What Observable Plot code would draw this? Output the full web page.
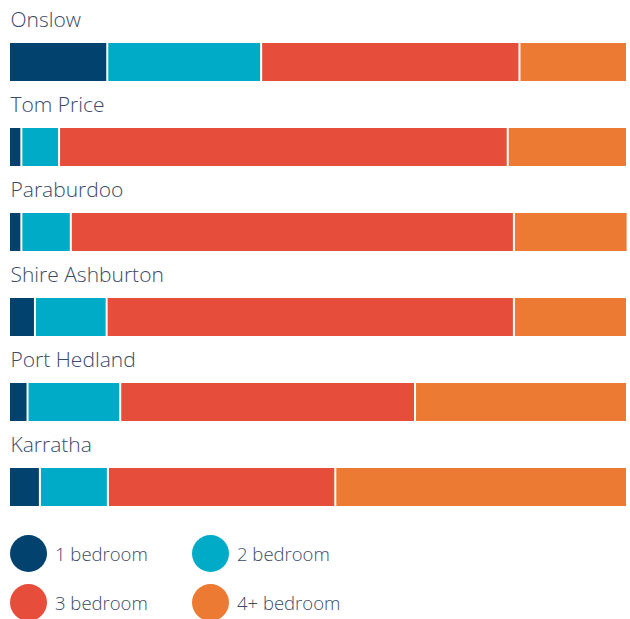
<!DOCTYPE html>
<html>
<head>
<meta charset="utf-8">
<script src="https://cdn.jsdelivr.net/npm/d3@7"></script>
<script src="https://cdn.jsdelivr.net/npm/@observablehq/plot@0.6"></script>
<style>
  body { margin: 0; background: #fff; font-family: "Open Sans", Lato, sans-serif; }
  #chart svg { display: block; }
  .legend { position: relative; height: 99px; }
  .item { position: absolute; display: flex; align-items: center; font-size: 18.5px; font-weight: 300; color: #3b4a68; }
  .sw { width: 37px; height: 37px; border-radius: 50%; margin-right: 8px; }
</style>
</head>
<body>
<div id="chart"></div>
<div class="legend" id="legend"></div>
<script>
const places = ["Onslow", "Tom Price", "Paraburdoo", "Shire Ashburton", "Port Hedland", "Karratha"];
const bedrooms = ["1 bedroom", "2 bedroom", "3 bedroom", "4+ bedroom"];
const colors = ["#02426f", "#00abc8", "#e64e3b", "#ec7a33"];
const oneBed   = [15.9, 2.0, 2.0, 4.2, 3.0, 5.0];
const twoBed   = [24.9, 6.1, 8.0, 11.6, 15.0, 11.0];
const threeBed = [41.8, 72.6, 71.7, 65.9, 47.7, 36.8];
const fourBed  = [17.4, 19.3, 18.4, 18.3, 34.3, 47.2];

const series = [oneBed, twoBed, threeBed, fourBed];
const rows = [];
places.forEach((p, i) => {
  bedrooms.forEach((b, j) => rows.push({place: p, bedroom: b, order: j, value: series[j][i]}));
});

const chart = Plot.plot({
  width: 630,
  height: 520,
  marginLeft: 9,
  marginRight: 3,
  marginTop: 0,
  marginBottom: 0,
  x: {domain: [0, 100], axis: null},
  y: {domain: places, range: [42, 506], paddingInner: 0.554, paddingOuter: 0, axis: null},
  color: {domain: bedrooms, range: colors},
  style: {fontFamily: "'Open Sans', Lato, sans-serif"},
  marks: [
    Plot.barX(rows, Plot.stackX({
      x: "value", y: "place", fill: "bedroom", order: "order",
      insetLeft: 1, insetRight: 1
    })),
    Plot.text(places, {
      x: 0, y: d => d, text: d => d,
      textAnchor: "start", lineAnchor: "bottom", dx: 1, dy: -36,
      fontSize: 21, fontWeight: 300, fill: "#3b4a68"
    })
  ]
});
document.getElementById("chart").appendChild(chart);

const legend = document.getElementById("legend");
const pos = [[10, 15], [192, 15], [10, 64], [192, 64]];
bedrooms.forEach((b, i) => {
  const it = document.createElement("div");
  it.className = "item";
  it.style.left = pos[i][0] + "px";
  it.style.top = pos[i][1] + "px";
  it.innerHTML = `<div class="sw" style="background:${colors[i]}"></div><span>${b}</span>`;
  legend.appendChild(it);
});
</script>
</body>
</html>
